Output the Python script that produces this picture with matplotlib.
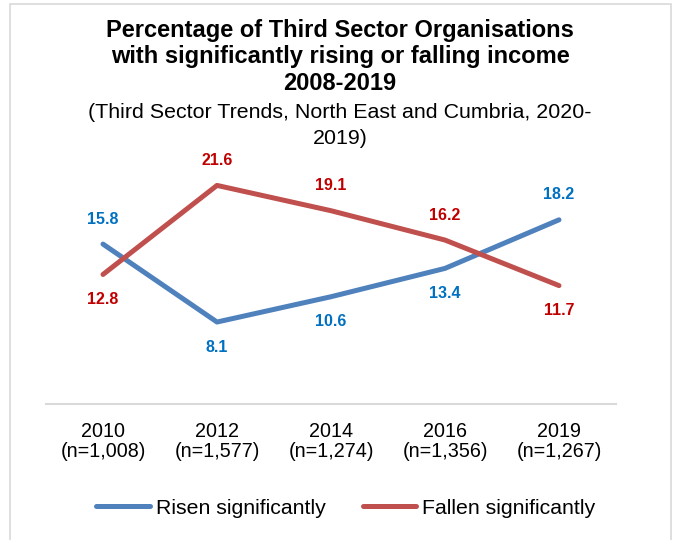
import numpy as np
import matplotlib
matplotlib.use('Agg')
import matplotlib.pyplot as plt
from matplotlib.patches import Rectangle

plt.rcParams['font.family'] = ['Liberation Sans', 'DejaVu Sans']

# donnees
annees = ['2010\n(n=1,008)', '2012\n(n=1,577)', '2014\n(n=1,274)', '2016\n(n=1,356)', '2019\n(n=1,267)']
risen = [15.8, 8.1, 10.6, 13.4, 18.2]
fallen = [12.8, 21.6, 19.1, 16.2, 11.7]
# position des etiquettes : 1 = au-dessus, -1 = en dessous
pos_risen = [1, -1, -1, -1, 1]
pos_fallen = [-1, 1, 1, 1, -1]

titre = ['Percentage of Third Sector Organisations',
         'with significantly rising or falling income',
         '2008-2019']
sous_titre = ['(Third Sector Trends, North East and Cumbria, 2020-', '2019)']

c_bleu = '#4F81BD'
c_rouge = '#C0504D'
c_lab_bleu = '#0070C0'
c_lab_rouge = '#C00000'

fig = plt.figure(figsize=(6.8, 5.4), dpi=100)
ax = fig.add_axes([46/680, 1 - 404/540, 570/680, 253/540])

x = np.arange(len(annees))
ax.plot(x, risen, color=c_bleu, lw=3.6, solid_capstyle='round', label='Risen significantly')
ax.plot(x, fallen, color=c_rouge, lw=3.6, solid_capstyle='round', label='Fallen significantly')

for i in range(len(x)):
    ax.annotate(f'{risen[i]}', (x[i], risen[i]), xytext=(0, 18*pos_risen[i]),
                textcoords='offset points', ha='center', va='center',
                color=c_lab_bleu, fontsize=11.5, fontweight='bold')
    ax.annotate(f'{fallen[i]}', (x[i], fallen[i]), xytext=(0, 18*pos_fallen[i]),
                textcoords='offset points', ha='center', va='center',
                color=c_lab_rouge, fontsize=11.5, fontweight='bold')

ax.set_xlim(-0.5, len(x) - 0.5)
ax.set_ylim(0, 25)
ax.set_xticks(x)
ax.set_xticklabels(annees, fontsize=14.2, linespacing=1.05)
ax.tick_params(axis='x', length=0, pad=13)
ax.set_yticks([])
for s in ['top', 'right', 'left']:
    ax.spines[s].set_visible(False)
ax.spines['bottom'].set_color('#D9D9D9')
ax.spines['bottom'].set_linewidth(1.5)

for ligne, yp in zip(titre, [30, 57, 84]):
    fig.text(0.5, 1 - yp/540, ligne, ha='center', va='center', fontsize=17, fontweight='bold')
for ligne, yp in zip(sous_titre, [112, 138]):
    fig.text(0.5, 1 - yp/540, ligne, ha='center', va='center', fontsize=15.4)

fig.legend(loc='center', bbox_to_anchor=(346/680, 1 - 508/540), ncol=2, frameon=False,
           fontsize=15.3, handlelength=2.5, handletextpad=0.3, columnspacing=1.75)

fig.patches.append(Rectangle((10/680, -0.05), 661/680, 1.05 - 4/540, transform=fig.transFigure,
                             fill=False, edgecolor='#D9D9D9', lw=1.2))

fig.savefig('out.png', dpi=100)
